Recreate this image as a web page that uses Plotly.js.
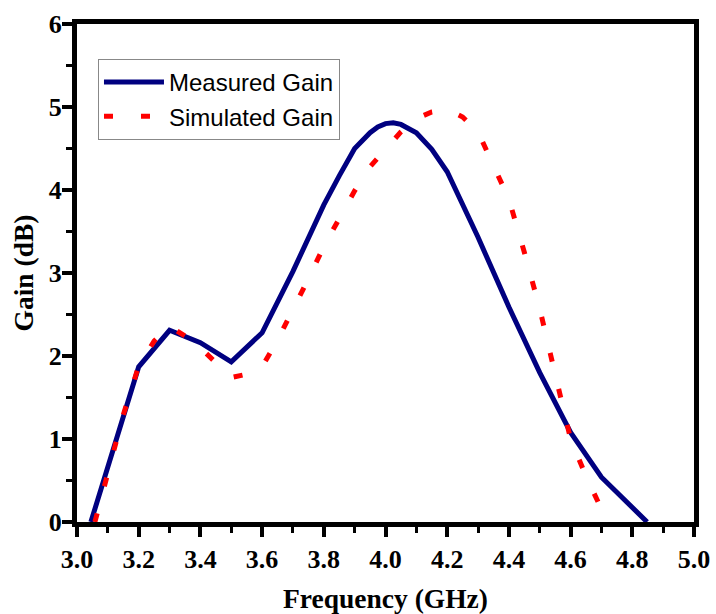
<!DOCTYPE html>
<html>
<head>
<meta charset="utf-8">
<script src="https://cdn.plot.ly/plotly-3.0.1.min.js"></script>
<style>
html,body{margin:0;padding:0;background:#fff;}
#chart{width:716px;height:614px;}
</style>
</head>
<body>
<div id="chart"></div>
<script>
// Measured gain (GHz, dB)
var measuredFreq = [3.045, 3.1, 3.2, 3.3, 3.4, 3.5, 3.6, 3.7, 3.8, 3.85, 3.9, 3.95, 3.975, 4.0, 4.025, 4.05, 4.1, 4.15, 4.2, 4.3, 4.4, 4.5, 4.6, 4.7, 4.848];
var measuredGain = [0, 0.66, 1.87, 2.31, 2.16, 1.93, 2.28, 3.02, 3.82, 4.17, 4.50, 4.69, 4.76, 4.80, 4.81, 4.79, 4.69, 4.49, 4.22, 3.43, 2.59, 1.80, 1.08, 0.54, 0];

// Simulated gain (GHz, dB)
var simulatedFreq = [3.058, 3.1, 3.15, 3.2, 3.25, 3.3, 3.35, 3.4, 3.45, 3.5, 3.55, 3.6, 3.65, 3.7, 3.75, 3.8, 3.85, 3.9, 3.95, 4.0, 4.05, 4.1, 4.15, 4.2, 4.25, 4.3, 4.35, 4.4, 4.45, 4.5, 4.55, 4.6, 4.65, 4.7, 4.72];
var simulatedGain = [0, 0.59, 1.29, 1.88, 2.18, 2.36, 2.24, 2.10, 1.92, 1.74, 1.78, 1.87, 2.19, 2.55, 2.93, 3.32, 3.67, 3.99, 4.28, 4.50, 4.70, 4.86, 4.94, 4.97, 4.88, 4.70, 4.30, 3.89, 3.25, 2.57, 1.78, 1.00, 0.55, 0.15, 0];

var seriesNames = ["Measured Gain", "Simulated Gain"];
var xTitle = "Frequency (GHz)";
var yTitle = "Gain (dB)";

var traces = [
  {
    x: measuredFreq, y: measuredGain, name: seriesNames[0],
    type: "scatter", mode: "lines",
    line: {color: "#000080", width: 5}
  },
  {
    x: simulatedFreq, y: simulatedGain, name: seriesNames[1],
    type: "scatter", mode: "lines",
    line: {color: "#ff0000", width: 5, dash: "9px,28px"}
  }
];

var serif = "Liberation Serif, 'Times New Roman', serif";
var titleFont = {family: serif, size: 27.5, color: "#000", weight: "bold"};
var tickFont = {family: serif, size: 26, color: "#000", weight: "bold"};

var layout = {
  width: 716, height: 614,
  margin: {l: 77, r: 22, t: 24, b: 92},
  paper_bgcolor: "#fff", plot_bgcolor: "#fff",
  showlegend: true,
  legend: {
    x: 0.034, y: 0.93, xanchor: "left", yanchor: "top",
    bgcolor: "#fff", bordercolor: "#888", borderwidth: 1,
    font: {family: "Liberation Sans, Arial, sans-serif", size: 24, color: "#000"},
    tracegroupgap: 0, itemwidth: 60
  },
  xaxis: {
    range: [3.0, 5.0], dtick: 0.2, tick0: 3.0, tickformat: ".1f",
    showgrid: false, zeroline: false,
    showline: true, linecolor: "#000", linewidth: 5, mirror: true,
    ticks: "outside", ticklen: 10, tickwidth: 4, tickcolor: "#000",
    minor: {dtick: 0.1, ticks: "outside", ticklen: 6, tickwidth: 3, tickcolor: "#000", showgrid: false},
    tickfont: tickFont,
    title: {text: xTitle, font: titleFont, standoff: 28}
  },
  yaxis: {
    range: [0, 6], dtick: 1, tick0: 0,
    showgrid: false, zeroline: false,
    showline: true, linecolor: "#000", linewidth: 5, mirror: true,
    ticks: "outside", ticklen: 10, tickwidth: 4, tickcolor: "#000",
    minor: {dtick: 0.5, ticks: "outside", ticklen: 6, tickwidth: 3, tickcolor: "#000", showgrid: false},
    tickfont: tickFont, ticklabelstandoff: -5,
    title: {text: yTitle, font: titleFont, standoff: 9}
  }
};

Plotly.newPlot("chart", traces, layout, {displayModeBar: false, staticPlot: true});
</script>
</body>
</html>
